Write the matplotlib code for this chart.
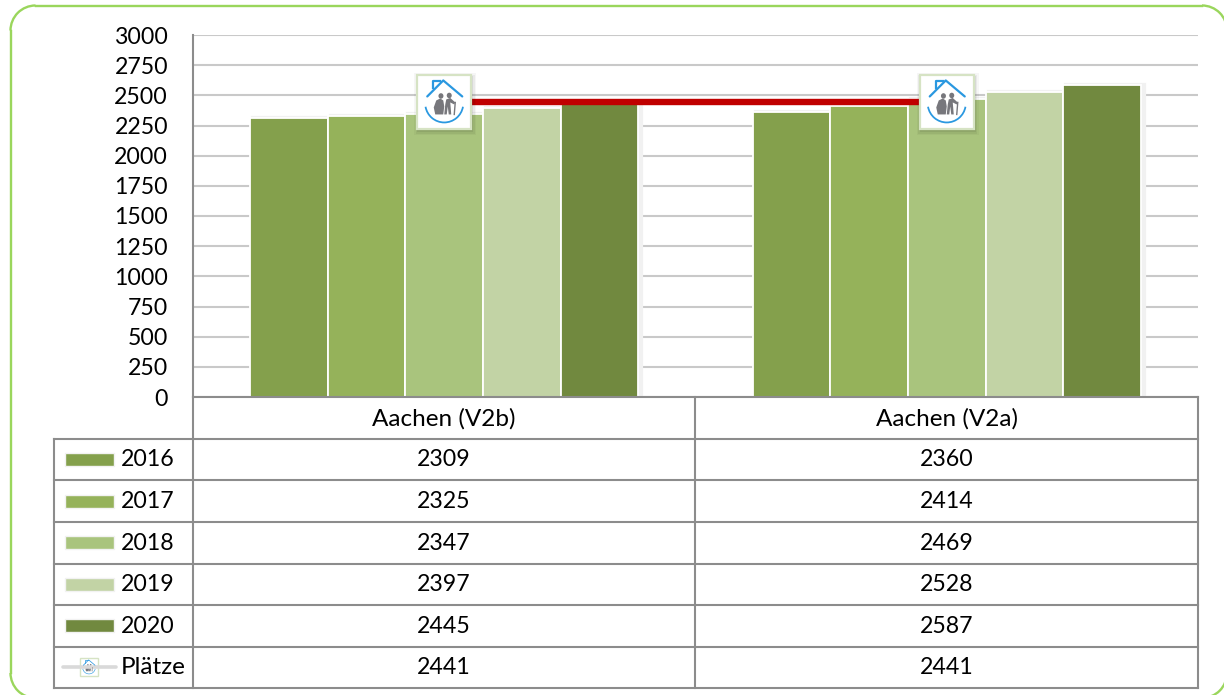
import matplotlib
matplotlib.use('Agg')
import numpy as np
import matplotlib.pyplot as plt
from matplotlib.patches import Rectangle, Polygon, Ellipse, Arc

plt.rcParams['font.family'] = ['Lato', 'DejaVu Sans']

# data
categories = ['Aachen (V2b)', 'Aachen (V2a)']
years = ['2016', '2017', '2018', '2019', '2020']
values_2016 = [2309, 2360]
values_2017 = [2325, 2414]
values_2018 = [2347, 2469]
values_2019 = [2397, 2528]
values_2020 = [2445, 2587]
plaetze = [2441, 2441]
y_ticks = list(range(0, 3001, 250))

series = [values_2016, values_2017, values_2018, values_2019, values_2020]
colors = ['#84a04c', '#95b25a', '#a9c47d', '#c2d3a5', '#71893f']

W, H = 1224, 695
PLOT_L, PLOT_R, PLOT_T, PLOT_B = 193, 1198, 35, 397
TABLE_L, COL_MID = 54, 695
ROW_Y = [397, 438.5, 480, 522, 563.5, 605, 646.5, 688]
GRAY = '#8c8c8c'
FS_NUM = 16.7
FS_TXT = 17.5

fig = plt.figure(figsize=(W / 100, H / 100), dpi=100)
ax = fig.add_axes([PLOT_L / W, 1 - PLOT_B / H, (PLOT_R - PLOT_L) / W, (PLOT_B - PLOT_T) / H])
ax.set_xlim(0, 2)
ax.set_ylim(0, 3000)
ax.patch.set_alpha(0)

# gridlines and y axis
ax.set_yticks(y_ticks)
ax.set_xticks([])
ax.grid(axis='y', color='#c9c9c9', lw=1.5, zorder=0)
ax.set_axisbelow(True)
ax.tick_params(axis='y', length=0, pad=18, labelsize=FS_NUM)
for side in ['top', 'right', 'bottom']:
    ax.spines[side].set_visible(False)
ax.spines['left'].set_color(GRAY)
ax.spines['left'].set_linewidth(1.5)

# bars, with a soft shadow behind each group
bar_w = 0.1545
centers = np.array([0.5, 1.5])
for i, vals in enumerate(series):
    xs = centers + (i - 2) * bar_w
    ax.bar(xs + 0.006, vals, bar_w, color='#f1f1f1', edgecolor='#f1f1f1', lw=3, zorder=1)
for i, vals in enumerate(series):
    xs = centers + (i - 2) * bar_w
    ax.bar(xs, vals, bar_w, color=colors[i], edgecolor='white', lw=1.3, zorder=2)

# red Plaetze line
ax.plot(centers, plaetze, color='#c00000', lw=4.6, solid_capstyle='butt', zorder=3)

# overlay in pixel coordinates for frame, table and icons
ov = fig.add_axes([0, 0, 1, 1], zorder=5)
ov.set_xlim(0, W)
ov.set_ylim(H, 0)
ov.axis('off')
ov.patch.set_alpha(0)

# rounded frame, runs off the right and bottom of the picture
FL, FR, FT, FB, RAD = 10.5, 1227, 5.5, 698, 25
GREEN = '#9ad65c'
ov.plot([FL + RAD, FR - RAD], [FT, FT], color=GREEN, lw=1.7)
ov.plot([FL + RAD, FR - RAD], [FB, FB], color=GREEN, lw=1.7)
ov.plot([FL, FL], [FT + RAD, FB - RAD], color=GREEN, lw=1.7)
ov.plot([FR, FR], [FT + RAD, FB - RAD], color=GREEN, lw=1.7)
ov.add_patch(Arc((FL + RAD, FT + RAD), 2 * RAD, 2 * RAD, theta1=180, theta2=270, color=GREEN, lw=1.7))
ov.add_patch(Arc((FR - RAD, FT + RAD), 2 * RAD, 2 * RAD, theta1=270, theta2=360, color=GREEN, lw=1.7))
ov.add_patch(Arc((FL + RAD, FB - RAD), 2 * RAD, 2 * RAD, theta1=90, theta2=180, color=GREEN, lw=1.7))
ov.add_patch(Arc((FR - RAD, FB - RAD), 2 * RAD, 2 * RAD, theta1=0, theta2=90, color=GREEN, lw=1.7))


def draw_icon(cx, cy, half, shadow=True):
    k = half / 27.0
    if shadow:
        for d, a in [(4, 0.035), (2.5, 0.05), (1, 0.07)]:
            ov.add_patch(Rectangle((cx - half + 1 - d, cy - half + 2 - d),
                                   2 * half + 2 * d, 2 * half + 2 * d,
                                   fc='black', ec='none', alpha=a))
    ov.add_patch(Rectangle((cx - half, cy - half), 2 * half, 2 * half, fc='white',
                           ec='#d6e3c4', lw=max(1.6 * k, 1.0)))
    blue = '#2a98e0'
    lw = 1.6 * k
    ov.plot([cx - 17 * k, cx - 1 * k, cx + 18 * k], [cy - 6 * k, cy - 22 * k, cy - 6 * k],
            color=blue, lw=lw, solid_capstyle='round')
    ov.plot([cx - 11 * k, cx - 11 * k, cx - 4 * k], [cy - 14 * k, cy - 21 * k, cy - 21 * k],
            color=blue, lw=lw)
    ov.add_patch(Arc((cx, cy + 1 * k), 38 * k, 38 * k, theta1=10, theta2=170, color=blue, lw=lw * 0.8))
    fig_c = '#77777c'
    ov.add_patch(Ellipse((cx - 3.3 * k, cy - 6.5 * k), 5 * k, 5.5 * k, fc=fig_c, ec='none'))
    ov.add_patch(Ellipse((cx + 5 * k, cy - 7 * k), 5 * k, 5.5 * k, fc=fig_c, ec='none'))
    ov.add_patch(Polygon(np.array([[-9, 12], [-10.5, 5], [-8, -2], [-4, -4], [-1, -2], [0, 4], [-1, 12]]) * k + [cx, cy],
                         fc=fig_c, ec='none'))
    ov.add_patch(Polygon(np.array([[0, 12], [1, 2], [2, -3], [6, -4.5], [11, 0], [10, 2], [6, 0], [7, 12], [4.5, 12], [3.5, 4], [2.5, 12]]) * k + [cx, cy],
                         fc=fig_c, ec='none'))
    ov.plot([cx + 11 * k, cx + 10 * k], [cy + 0 * k, cy + 12 * k], color=fig_c, lw=1.0 * k)


# icons sit on the Plaetze points
for c, v in zip(centers, plaetze):
    px, py = ax.transData.transform((c, v))
    draw_icon(px, H - py, 27)

# table grid
for j, y in enumerate(ROW_Y):
    ov.plot([PLOT_L if j == 0 else TABLE_L, PLOT_R], [y, y], color=GRAY, lw=1.5, solid_capstyle='projecting')
ov.plot([TABLE_L, TABLE_L], [ROW_Y[1], ROW_Y[-1]], color=GRAY, lw=1.5)
for x in [PLOT_L, COL_MID, PLOT_R]:
    ov.plot([x, x], [ROW_Y[0], ROW_Y[-1]], color=GRAY, lw=1.5)

col_x = [(PLOT_L + COL_MID) / 2, (COL_MID + PLOT_R) / 2]
row_mid = [(ROW_Y[j] + ROW_Y[j + 1]) / 2 + 0.7 for j in range(len(ROW_Y) - 1)]

for x, name in zip(col_x, categories):
    ov.text(x, row_mid[0], name, ha='center', va='center', fontsize=FS_TXT)

rows = series + [plaetze]
for j, vals in enumerate(rows):
    y = row_mid[j + 1]
    for x, v in zip(col_x, vals):
        ov.text(x, y, str(v), ha='center', va='center', fontsize=FS_NUM)

# legend keys inside the table
for j, yr in enumerate(years):
    y = row_mid[j + 1] - 0.7
    ov.add_patch(Rectangle((65, y - 6.5), 49, 13, fc=colors[j], ec='#f2f2f2', lw=1))
    ov.text(121, y + 0.7, yr, ha='left', va='center', fontsize=FS_NUM)
y = row_mid[-1] - 0.7
ov.plot([63, 116], [y, y], color='#d9d9d9', lw=2.6, solid_capstyle='round')
draw_icon(89, y, 9, shadow=False)
ov.text(121, y + 0.7, 'Plätze', ha='left', va='center', fontsize=FS_TXT)

fig.savefig('out.png', dpi=100)
